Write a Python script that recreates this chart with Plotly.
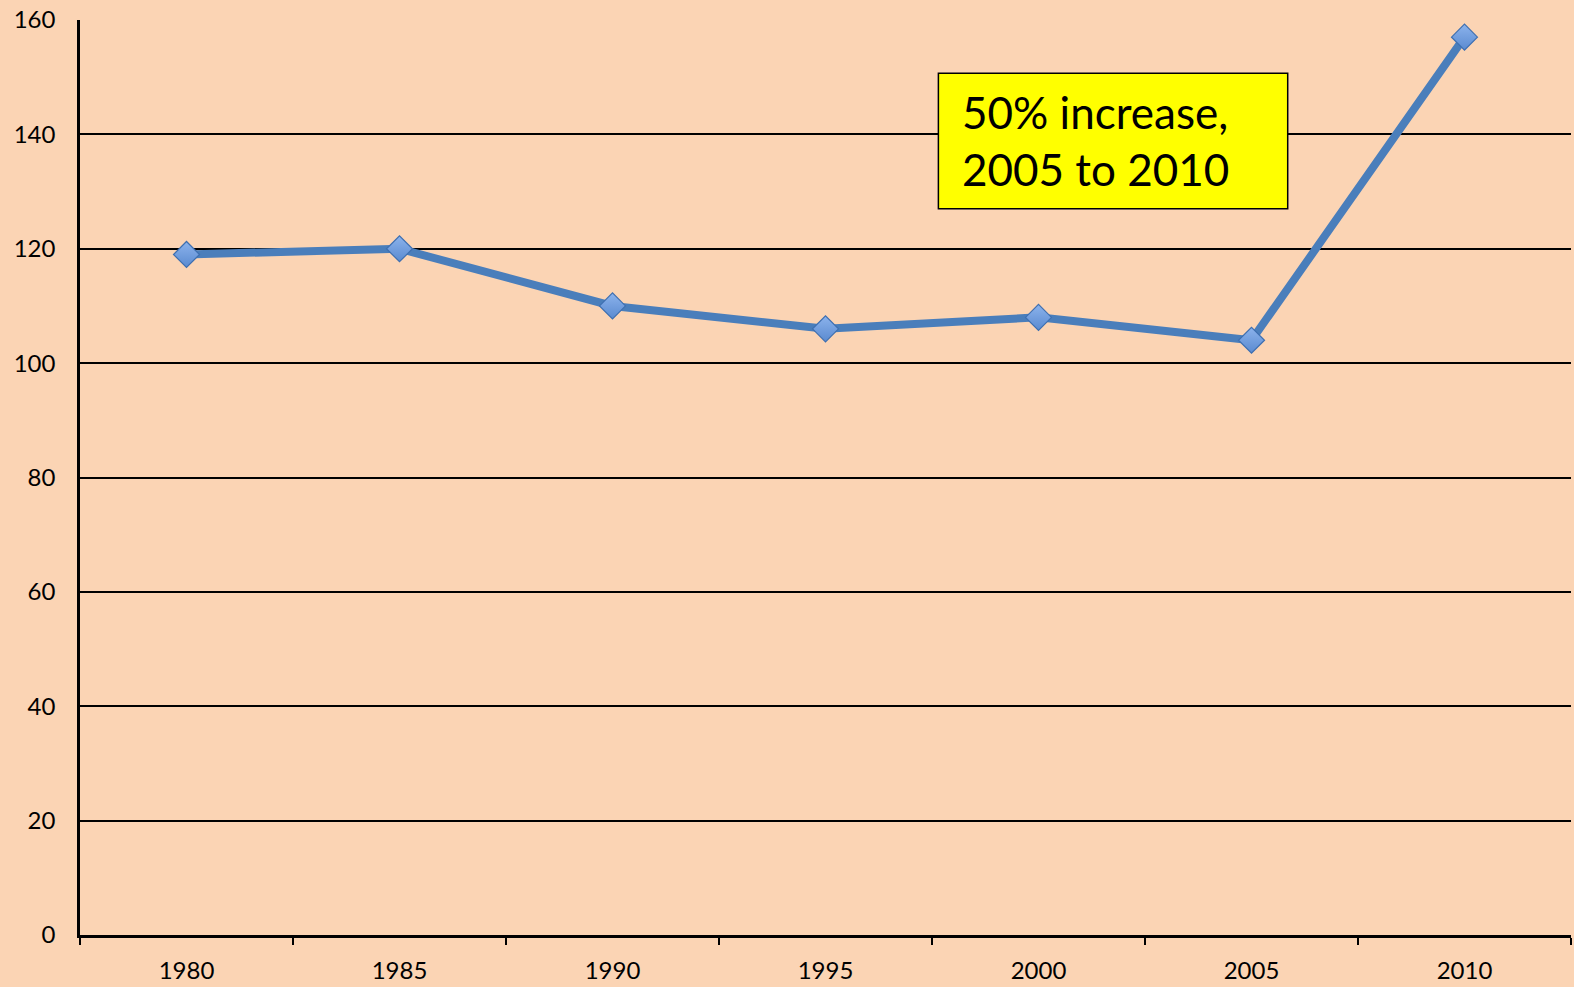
import plotly.graph_objects as go

years = ["1980", "1985", "1990", "1995", "2000", "2005", "2010"]
values = [119, 120, 110, 106, 108, 104, 157]
y_ticks = [0, 20, 40, 60, 80, 100, 120, 140, 160]
note_text = "50% increase,<br>2005 to 2010"

BG = "#FBD4B4"
FONT = "Lato, Carlito, 'Liberation Sans', sans-serif"

fig = go.Figure()
fig.add_trace(go.Scatter(
    x=years, y=values, mode="lines+markers",
    line=dict(color="#4A7EBB", width=8),
    marker=dict(symbol="diamond", size=20, color="#8CB3EC",
                gradient=dict(type="vertical", color="#5A8AD0"),
                line=dict(color="#3E6FB0", width=1.2)),
    showlegend=False, hoverinfo="x+y",
))

# annotation box
fig.add_shape(type="rect", xref="x", yref="y",
              x0=3.53, x1=5.17, y0=127.0, y1=150.7,
              fillcolor="#FFFF00", line=dict(color="black", width=1.5), layer="above")
fig.add_annotation(xref="x", yref="y", x=3.63, y=139.0, text=note_text,
                   showarrow=False, xanchor="left", yanchor="middle", align="left",
                   font=dict(family=FONT, size=44, color="black"))

fig.update_layout(
    width=1574, height=987,
    paper_bgcolor=BG, plot_bgcolor=BG,
    margin=dict(l=80, r=3, t=20, b=52),
    font=dict(family=FONT, size=24, color="black"),
)
fig.update_xaxes(
    type="category", range=[-0.5, 6.5], tickson="boundaries",
    ticks="outside", ticklen=7, tickwidth=2, tickcolor="black",
    showline=True, linecolor="black", linewidth=2.5,
    showgrid=False, zeroline=False, ticklabelstandoff=12,
    tickfont=dict(family=FONT, size=24, color="black"),
)
fig.update_yaxes(
    range=[0, 160], tickvals=y_ticks, ticktext=[str(v) for v in y_ticks],
    ticks="", showline=True, linecolor="black", linewidth=2.5,
    showgrid=True, gridcolor="black", gridwidth=1.5,
    zeroline=False, ticklabelstandoff=17,
    tickfont=dict(family=FONT, size=24, color="black"),
)

fig.write_html("out.html", config={"displayModeBar": False},
               post_script="document.body.style.margin='0';document.body.style.overflow='hidden';")
